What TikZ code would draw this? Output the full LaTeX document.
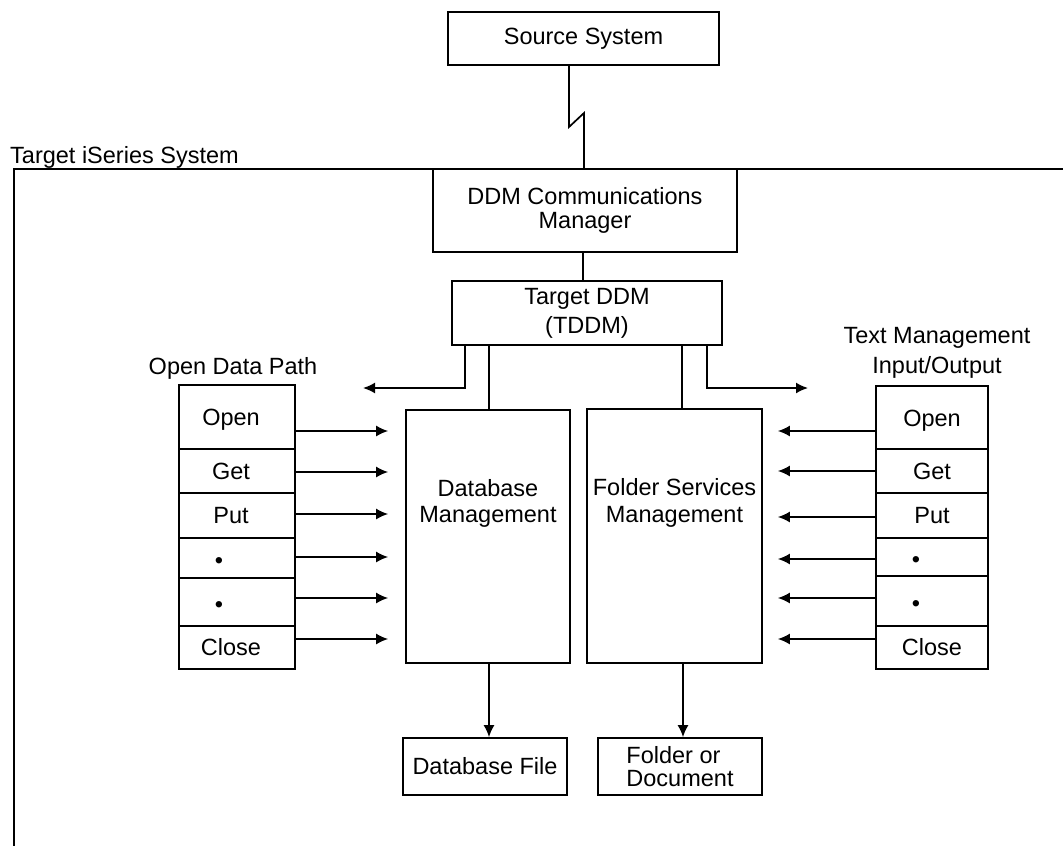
\documentclass[tikz,border=0pt]{standalone}
\usepackage{fontspec}
\setmainfont{Liberation Sans}
\usetikzlibrary{arrows.meta}
\newcommand{\lowdot}{\raisebox{-5pt}[\height][\depth]{•}}
\newcommand{\lowtxt}[1]{\raisebox{-3pt}[\height][\depth]{#1}}
\begin{document}
\begin{tikzpicture}[x=1pt,y=-1pt,
  box/.style={draw, line width=1.7pt, inner sep=0pt, align=center, font=\fontsize{23.5}{28}\selectfont},
  txt/.style={inner sep=0pt, align=center, font=\fontsize{23.5}{28}\selectfont},
  ln/.style={line width=1.7pt},
  arr/.style={ln, -{Latex[length=12pt,width=11pt]}}]
\useasboundingbox (0,0) rectangle (1063,846);
% frame
\coordinate (fbl) at (14,846);
\coordinate (ftl) at (14,169);
\coordinate (ftr) at (1063,169);
\draw[ln] (fbl) -- (ftl) -- (ftr);
\node[txt, anchor=west] (tis) at (10,157) {Target iSeries System};
% main boxes
\node[box, minimum width=271pt, minimum height=53pt] (src) at (583.5,38.5) {Source System};
\node[box, minimum width=304pt, minimum height=83pt, font=\fontsize{23.5}{24}\selectfont] (ddm) at (585,210.5) {DDM Communications\\Manager};
\node[box, minimum width=270pt, minimum height=64pt, font=\fontsize{23.5}{29}\selectfont] (tddm) at (587,313) {Target DDM\\(TDDM)};
\node[box, minimum width=164pt, minimum height=253pt,
  label={[txt, font=\fontsize{23.5}{26}\selectfont, yshift=33.5pt]center:Database\\Management}] (db) at (488,536.5) {};
\node[box, minimum width=175pt, minimum height=254pt,
  label={[txt, font=\fontsize{23.5}{27}\selectfont, yshift=33pt]center:Folder Services\\Management}] (fs) at (674.5,536) {};
\node[box, minimum width=164pt, minimum height=57pt] (dbf) at (485,766.5) {Database File};
\node[box, minimum width=164pt, minimum height=57pt, align=left, font=\fontsize{23.5}{23}\selectfont] (fd) at (680,766.5) {Folder or\\Document};
% left stack
\node[txt] (odpl) at (233,368) {Open Data Path};
\node[box, minimum width=116pt, minimum height=64pt] (lo1) at (237,417) {\hspace*{-12pt}\lowtxt{Open}};
\node[box, minimum width=116pt, minimum height=44pt] (lo2) at (237,471) {\hspace*{-12pt}Get};
\node[box, minimum width=116pt, minimum height=45pt] (lo3) at (237,515.5) {\hspace*{-12pt}Put};
\node[box, minimum width=116pt, minimum height=40pt] (lo4) at (237,558) {\hspace*{-36pt}\lowdot};
\node[box, minimum width=116pt, minimum height=48pt] (lo5) at (237,602) {\hspace*{-36pt}\lowdot};
\node[box, minimum width=116pt, minimum height=43pt] (lo6) at (237,647.5) {\hspace*{-12pt}Close};
% right stack
\node[txt, font=\fontsize{23.5}{30}\selectfont] (tml) at (937,353) {Text Management\\Input/Output};
\node[box, minimum width=112pt, minimum height=63pt] (ro1) at (932,417.5) {\lowtxt{Open}};
\node[box, minimum width=112pt, minimum height=44pt] (ro2) at (932,471) {Get};
\node[box, minimum width=112pt, minimum height=45pt] (ro3) at (932,515.5) {Put};
\node[box, minimum width=112pt, minimum height=38pt] (ro4) at (932,557) {\hspace*{-32pt}\lowdot};
\node[box, minimum width=112pt, minimum height=50pt] (ro5) at (932,601) {\hspace*{-32pt}\lowdot};
\node[box, minimum width=112pt, minimum height=43pt] (ro6) at (932,647.5) {Close};
% lightning link
\draw[ln] (src.south -| 569,0) -- (569,127) -- (584,113) -- (ddm.north -| 584,0);
% ddm to tddm
\draw[ln] (ddm.south -| 583,0) -- (tddm.north -| 583,0);
% tddm branches
\coordinate (odp) at (363,388);
\coordinate (tmio) at (808,388);
\draw[arr] (tddm.south -| 465,0) |- (odp);
\draw[arr] (tddm.south -| 707,0) |- (tmio);
\draw[ln] (tddm.south -| 489,0) -- (db.north -| 489,0);
\draw[ln] (tddm.south -| 682,0) -- (fs.north -| 682,0);
% row arrows
\foreach \r/\y in {1/431,2/472,3/514,4/557,5/598,6/639}
  \draw[arr, shorten >=17pt] (lo\r.east |- 0,\y) -- (db.west |- 0,\y);
\foreach \r/\y in {1/431,2/471,3/517,4/559,5/598,6/639}
  \draw[arr, shorten >=15pt] (ro\r.west |- 0,\y) -- (fs.east |- 0,\y);
% bottom arrows
\draw[arr] (db.south -| 489,0) -- (dbf.north -| 489,0);
\draw[arr] (fs.south -| 683,0) -- (fd.north -| 683,0);
\end{tikzpicture}
\end{document}
